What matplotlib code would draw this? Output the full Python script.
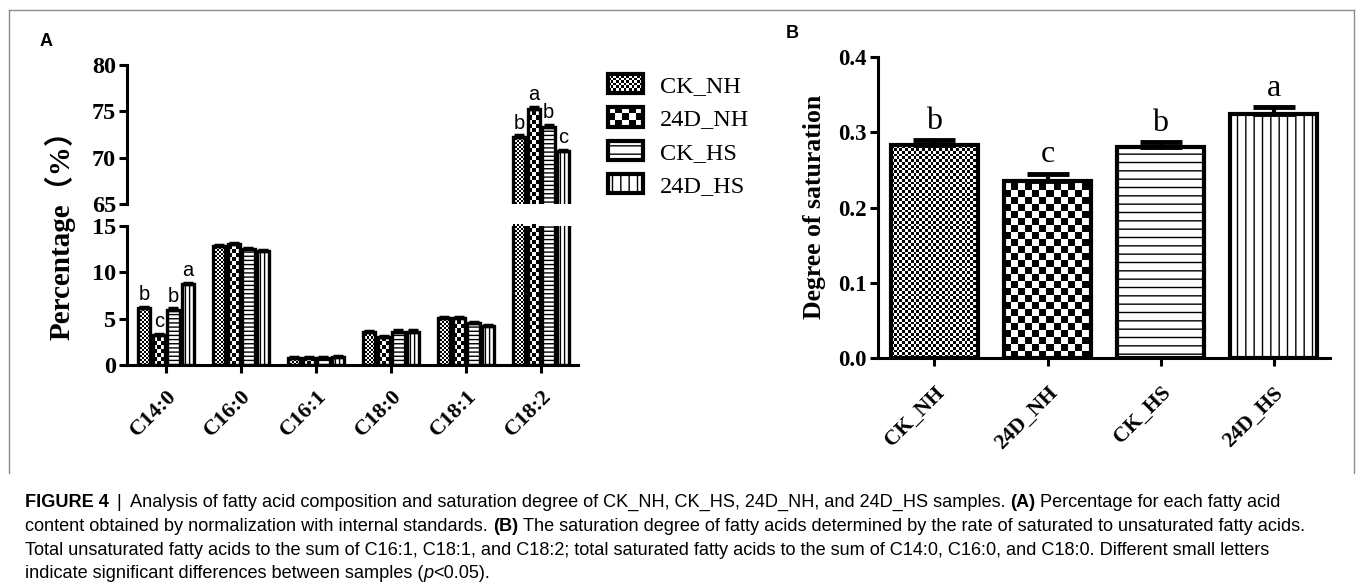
import numpy as np
import matplotlib
matplotlib.use("Agg")
import matplotlib.pyplot as plt
from matplotlib.patches import Rectangle, Patch
from matplotlib.legend_handler import HandlerBase
from matplotlib.lines import Line2D

# ---------------- data ----------------
acids = ["C14:0", "C16:0", "C16:1", "C18:0", "C18:1", "C18:2"]
groups = ["CK_NH", "24D_NH", "CK_HS", "24D_HS"]

pct_ck_nh = [6.1, 12.8, 0.8, 3.6, 5.05, 72.2]
pct_24d_nh = [3.2, 13.05, 0.8, 3.0, 5.1, 75.3]
pct_ck_hs = [5.95, 12.5, 0.75, 3.6, 4.55, 73.3]
pct_24d_hs = [8.75, 12.3, 0.85, 3.55, 4.25, 70.7]

err_ck_nh = [0.15, 0.15, 0.1, 0.1, 0.1, 0.2]
err_24d_nh = [0.15, 0.15, 0.1, 0.1, 0.1, 0.2]
err_ck_hs = [0.15, 0.15, 0.1, 0.15, 0.1, 0.2]
err_24d_hs = [0.15, 0.1, 0.1, 0.2, 0.1, 0.15]

letters_c14 = ["b", "c", "b", "a"]
letters_c18_2 = ["b", "a", "b", "c"]

yticks_low = [0, 5, 10, 15]
yticks_high = [65, 70, 75, 80]
ylabels_low = ["0", "5", "10", "15"]
ylabels_high = ["65", "70", "75", "80"]

sat_values = [0.283, 0.235, 0.281, 0.324]
sat_err = [0.007, 0.010, 0.006, 0.009]
sat_letters = ["b", "c", "b", "a"]
sat_yticks = [0.0, 0.1, 0.2, 0.3, 0.4]
sat_ylabels = ["0.0", "0.1", "0.2", "0.3", "0.4"]

caption_lines = [
    [("FIGURE 4", "bold", False), ("|", "normal", True),
     ("Analysis of fatty acid composition and saturation degree of CK_NH, CK_HS, 24D_NH, and 24D_HS samples.", "normal", True),
     ("(A)", "bold", True), ("Percentage for each fatty acid", "normal", True)],
    [("content obtained by normalization with internal standards.", "normal", False),
     ("(B)", "bold", True),
     ("The saturation degree of fatty acids determined by the rate of saturated to unsaturated fatty acids.", "normal", True)],
    [("Total unsaturated fatty acids to the sum of C16:1, C18:1, and C18:2; total saturated fatty acids to the sum of C14:0, C16:0, and C18:0. Different small letters", "normal", False)],
    [("indicate significant differences between samples (", "normal", False), ("p", "italic", False),
     ("<0.05).", "normal", False)],
]

# ---------------- style ----------------
plt.rcParams["font.family"] = ["Liberation Serif", "Noto Sans CJK SC"]
plt.rcParams["hatch.linewidth"] = 1.0
SERIF = ["Liberation Serif", "Noto Sans CJK SC"]
SANS = ["Liberation Sans", "DejaVu Sans"]

W, H = 1357, 587
fig = plt.figure(figsize=(W / 100, H / 100), dpi=100)


def fx(px):
    return px / W


def fy(py):
    return 1 - py / H


# pattern per group: (kind, param panel A, param panel B)
patterns = [("checker", 2.0, 2.8), ("checker", 4.0, 7.0), ("hatch", "----", "--"), ("hatch", "||||", "||")]


def checker(ax, rect, cell, z):
    x0, y0 = rect.get_x(), rect.get_y()
    x1, y1 = x0 + rect.get_width(), y0 + rect.get_height()
    ylo, yhi = ax.get_ylim()
    y0c, y1c = max(y0, ylo), min(y1, yhi)
    if y1c <= y0c:
        return
    (px0, py0), (px1, py1) = ax.transData.transform([(x0, y0c), (x1, y1c)])
    nx = int(np.ceil((px1 - px0) / cell))
    ny = int(np.ceil((py1 - py0) / cell))
    ii, jj = np.meshgrid(np.arange(nx), np.arange(ny))
    arr = ((ii + jj) % 2).astype(float)
    ex1, ey1 = ax.transData.inverted().transform((px0 + nx * cell, py0 + ny * cell))
    im = ax.imshow(arr, cmap="gray_r", vmin=0, vmax=1, extent=(x0, ex1, y0c, ey1),
                   origin="lower", interpolation="nearest", aspect="auto", zorder=z)
    im.set_clip_path(rect)


def draw_bars(ax, x, vals, width, pat, lw):
    kind, p = pat
    if kind == "checker":
        bars = ax.bar(x, vals, width, color="white", edgecolor="none", zorder=2)
        xl, yl = ax.get_xlim(), ax.get_ylim()
        for r in bars:
            checker(ax, r, p, 2.5)
        ax.set_xlim(xl)
        ax.set_ylim(yl)
    else:
        ax.bar(x, vals, width, color="white", edgecolor="black", hatch=p, linewidth=0.0, zorder=2)
    ax.bar(x, vals, width, fill=False, edgecolor="black", linewidth=lw, zorder=4)


# ---------------- panel A ----------------
axU = fig.add_axes([fx(127), fy(204), (578 - 127) / W, (204 - 65) / H])
axL = fig.add_axes([fx(127), fy(365), (578 - 127) / W, (365 - 226) / H])
xa = np.arange(len(acids))
for ax, lim in ((axU, (65, 80)), (axL, (0, 15))):
    ax.set_xlim(-0.52, 5.49)
    ax.set_ylim(*lim)

series = [pct_ck_nh, pct_24d_nh, pct_ck_hs, pct_24d_hs]
errs = [err_ck_nh, err_24d_nh, err_ck_hs, err_24d_hs]
step = 0.195
bw = 0.165
for k in range(4):
    xs = xa + (k - 1.5) * step
    for ax in (axU, axL):
        draw_bars(ax, xs, series[k], bw, (patterns[k][0], patterns[k][1]), 2.4)
        ax.errorbar(xs, series[k], yerr=[np.zeros(len(acids)), errs[k]], fmt="none",
                    ecolor="black", elinewidth=2, capsize=3.5, capthick=2.5, zorder=5)
    # letters
    axL.annotate(letters_c14[k], (xs[0], series[k][0] + errs[k][0]), xytext=(0, 2),
                 textcoords="offset points", ha="center", va="bottom",
                 fontsize=14.5, family=SANS)
    axU.annotate(letters_c18_2[k], (xs[5], series[k][5] + errs[k][5]), xytext=(0, 2),
                 textcoords="offset points", ha="center", va="bottom",
                 fontsize=14.5, family=SANS)

for ax in (axU, axL):
    for s in ("top", "right"):
        ax.spines[s].set_visible(False)
    ax.spines["left"].set_linewidth(2.2)
    ax.spines["bottom"].set_linewidth(2.2)
    ax.tick_params(direction="out", length=6, width=2.2, pad=2)
axU.spines["bottom"].set_visible(False)
axU.set_xticks([])
axU.set_yticks(yticks_high)
axU.set_yticklabels(ylabels_high, fontweight="bold", fontsize=17.5, family=SERIF)
axL.set_yticks(yticks_low)
axL.set_yticklabels(ylabels_low, fontweight="bold", fontsize=17.5, family=SERIF)
axL.set_xticks(xa)
axL.set_xticklabels(acids, rotation=45, ha="right", va="top", rotation_mode="anchor",
                    fontweight="bold", fontsize=16, family=SERIF)
axL.tick_params(axis="x", pad=9)

fig.text(fx(60), fy(228), "Percentage（%）", rotation=90, ha="center", va="center",
         fontsize=21, fontweight="bold", family=SERIF)


# legend
class CheckerHandler(HandlerBase):
    def __init__(self, cell):
        super().__init__()
        self.cell = cell

    def create_artists(self, legend, orig_handle, xdescent, ydescent, width, height, fontsize, trans):
        c = self.cell
        x0, y0 = -xdescent, -ydescent
        arts = [Rectangle((x0, y0), width, height, facecolor="white", edgecolor="none", transform=trans)]
        nx = int(np.ceil(width / c))
        ny = int(np.ceil(height / c))
        for i in range(nx):
            for j in range(ny):
                if (i + j) % 2:
                    arts.append(Rectangle((x0 + i * c, y0 + j * c), min(c, width - i * c),
                                          min(c, height - j * c), facecolor="black",
                                          edgecolor="none", transform=trans))
        arts.append(Rectangle((x0, y0), width, height, facecolor="none", edgecolor="black",
                              linewidth=3, transform=trans))
        return arts


h_ck_nh = Patch(facecolor="white", edgecolor="black")
h_24d_nh = Patch(facecolor="white", edgecolor="black")
h_ck_hs = Patch(facecolor="white", edgecolor="black", hatch="--", linewidth=3)
h_24d_hs = Patch(facecolor="white", edgecolor="black", hatch="||", linewidth=3)
fig.legend([h_ck_nh, h_24d_nh, h_ck_hs, h_24d_hs], groups,
           handler_map={h_ck_nh: CheckerHandler(1.9), h_24d_nh: CheckerHandler(5.0)},
           loc="upper left", bbox_to_anchor=(fx(608), fy(74)), bbox_transform=fig.transFigure,
           frameon=False, prop={"family": SERIF, "size": 17.5}, handlelength=1.44,
           handleheight=0.85, labelspacing=0.42, handletextpad=0.7, borderpad=0,
           borderaxespad=0)

# ---------------- panel B ----------------
axB = fig.add_axes([fx(878), fy(358), (1330 - 878) / W, (358 - 57) / H])
axB.set_xlim(-0.5, 3.5)
axB.set_ylim(0, 0.4)
xb = np.arange(len(groups))
for k in range(4):
    draw_bars(axB, [xb[k]], [sat_values[k]], 0.77, (patterns[k][0], patterns[k][2]), 3.0)
axB.errorbar(xb, sat_values, yerr=[np.zeros(4), sat_err], fmt="none", ecolor="black",
             elinewidth=3, capsize=15, capthick=3.5, zorder=5)
for k in range(4):
    axB.annotate(sat_letters[k], (xb[k], sat_values[k] + sat_err[k]), xytext=(0, 3),
                 textcoords="offset points", ha="center", va="bottom", fontsize=23, family=SERIF)
for s in ("top", "right"):
    axB.spines[s].set_visible(False)
axB.spines["left"].set_linewidth(2.2)
axB.spines["bottom"].set_linewidth(2.2)
axB.tick_params(direction="out", length=6, width=2.2, pad=2)
axB.set_yticks(sat_yticks)
axB.set_yticklabels(sat_ylabels, fontweight="bold", fontsize=16.5, family=SERIF)
axB.set_xticks(xb)
axB.set_xticklabels(groups, rotation=45, ha="right", va="top", rotation_mode="anchor",
                    fontweight="bold", fontsize=15.5, family=SERIF)
axB.tick_params(axis="x", pad=12)
fig.text(fx(815), fy(207), "Degree of saturation", rotation=90, ha="center", va="center",
         fontsize=18.5, fontweight="bold", family=SERIF)

# panel letters
fig.text(fx(40), fy(41), "A", ha="left", va="center", fontsize=13, fontweight="bold", family=SANS)
fig.text(fx(786), fy(34), "B", ha="left", va="center", fontsize=13, fontweight="bold", family=SANS)

# border
border_kw = dict(color="#8c8c8c", linewidth=1.0, transform=fig.transFigure)
fig.add_artist(Line2D([fx(9), fx(9)], [fy(473), fy(10)], **border_kw))
fig.add_artist(Line2D([fx(9), fx(1354)], [fy(10), fy(10)], **border_kw))
fig.add_artist(Line2D([fx(1354), fx(1354)], [fy(10), fy(473)], **border_kw))

# caption
renderer = fig.canvas.get_renderer()
cap_fs = 13.1
t1 = fig.text(0, 0, "a a", fontsize=cap_fs, family=SANS)
t2 = fig.text(0, 0, "aa", fontsize=cap_fs, family=SANS)
space_w = t1.get_window_extent(renderer).width - t2.get_window_extent(renderer).width
t1.remove()
t2.remove()
baselines = [507, 531, 555, 578]
for line, yb in zip(caption_lines, baselines):
    x = 25
    for text, style, gap in line:
        if gap:
            x += space_w * (1.6 if text == "|" else 1.0)
        kw = {}
        if style == "bold":
            kw["fontweight"] = "bold"
        elif style == "italic":
            kw["fontstyle"] = "italic"
        t = fig.text(fx(x), fy(yb), text, ha="left", va="baseline", fontsize=cap_fs,
                     family=SANS, **kw)
        x = t.get_window_extent(renderer).x1
        if text == "|":
            x += space_w * 0.6

fig.savefig("out.png", dpi=100)
